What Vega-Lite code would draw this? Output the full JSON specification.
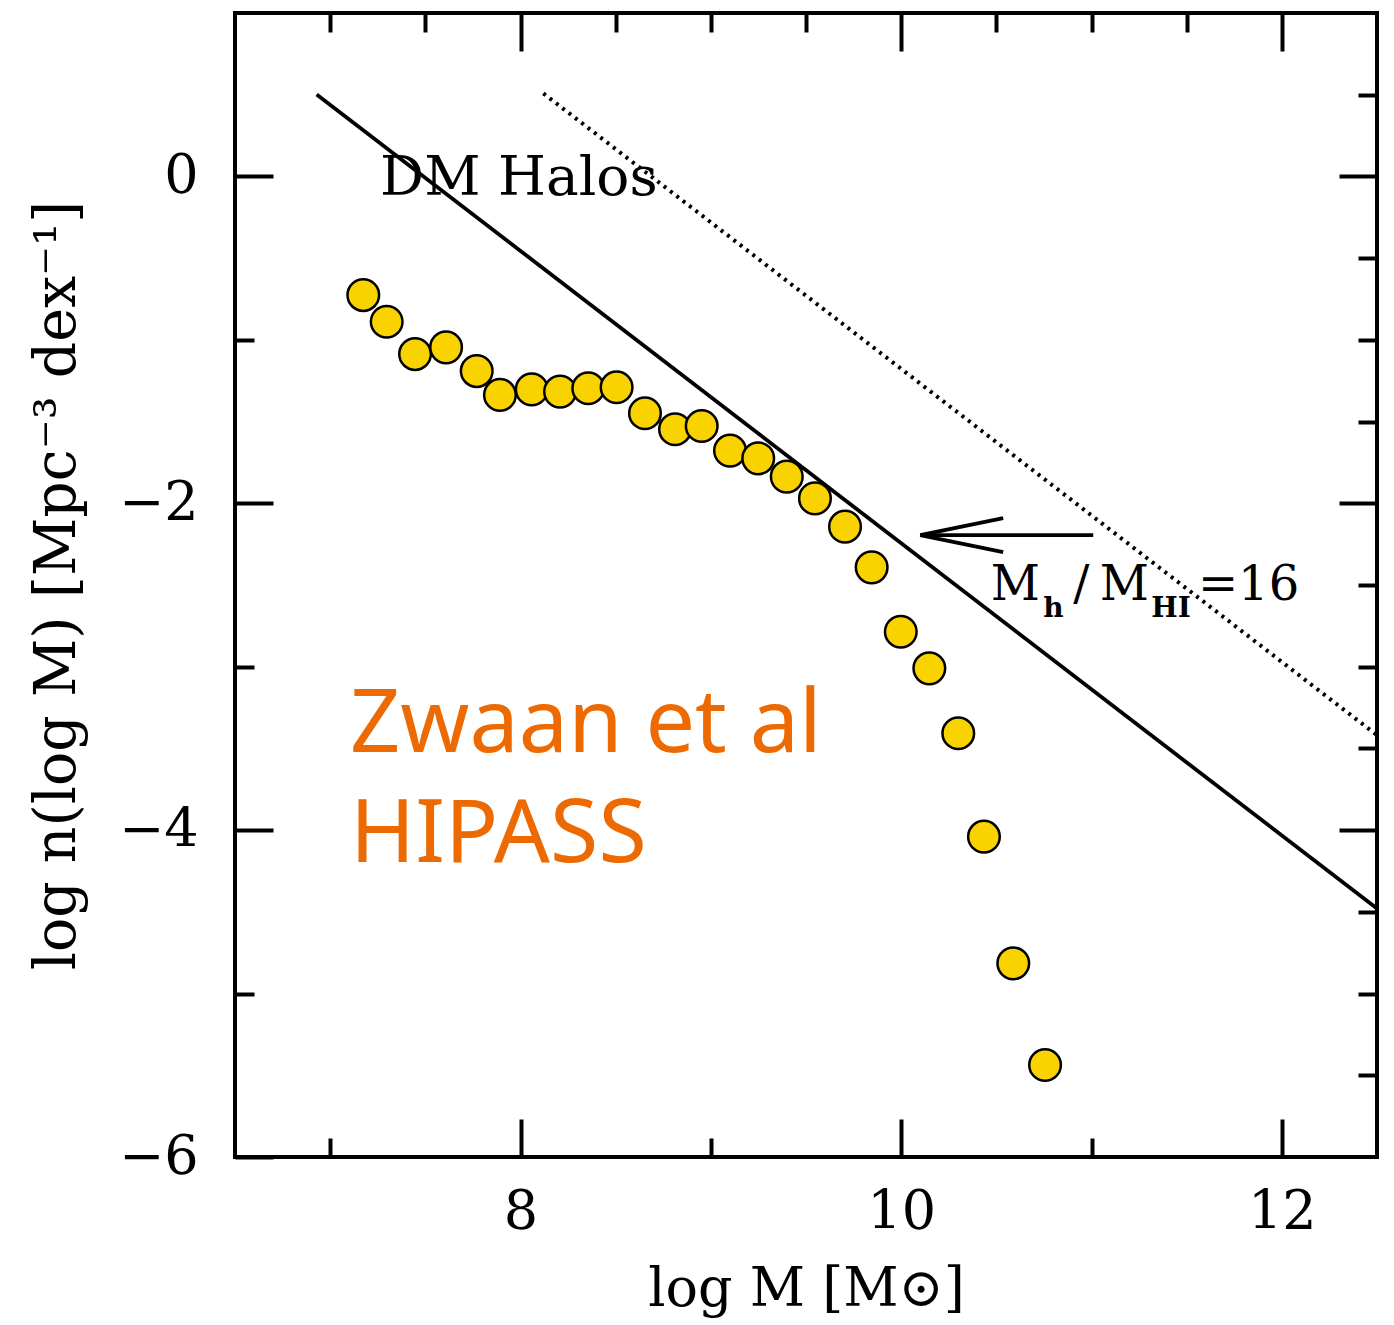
{
  "$schema": "https://vega.github.io/schema/vega-lite/v6.json",
  "width": 1142,
  "height": 1144,
  "autosize": {"type": "none"},
  "padding": {"left": 235, "top": 13, "right": 17, "bottom": 168},
  "background": "white",
  "config": {
    "view": {"stroke": "black", "strokeWidth": 4},
    "axis": {
      "domain": false,
      "grid": false,
      "tickColor": "black",
      "tickWidth": 4,
      "labelColor": "black",
      "labelFont": "DejaVu Serif",
      "labelFontSize": 54,
      "labelOverlap": false,
      "labelFlush": false,
      "titleColor": "black",
      "titleFont": "DejaVu Serif",
      "titleFontWeight": "normal"
    }
  },
  "layer": [
    {
      "data": {"values": [{"logM": 6.929, "logn": 0.502}, {"logM": 12.5, "logn": -4.48}]},
      "mark": {"type": "line", "color": "black", "strokeWidth": 3.8},
      "encoding": {
        "x": {"field": "logM", "type": "quantitative", "scale": {"domain": [6.5, 12.5], "nice": false, "zero": false},
          "axis": {"orient": "top", "values": [7, 7.5, 8, 8.5, 9, 9.5, 10, 10.5, 11, 11.5, 12], "labels": false, "title": null,
            "tickSize": {"condition": {"test": "datum.value % 2 === 0", "value": -38}, "value": -19}}},
        "y": {"field": "logn", "type": "quantitative", "scale": {"domain": [-6, 1], "nice": false, "zero": false},
          "axis": {"orient": "right", "values": [-5.5, -5, -4.5, -4, -3.5, -3, -2.5, -2, -1.5, -1, -0.5, 0, 0.5], "labels": false, "title": null,
            "tickSize": {"condition": {"test": "datum.value % 2 === 0", "value": -38}, "value": -19}}}
      }
    },
    {
      "data": {"values": [{"logM": 8.12, "logn": 0.508}, {"logM": 12.5, "logn": -3.419}]},
      "mark": {"type": "line", "color": "black", "strokeWidth": 4, "strokeDash": [3, 5]},
      "encoding": {
        "x": {"field": "logM", "type": "quantitative", "axis": null},
        "y": {"field": "logn", "type": "quantitative", "axis": null}
      }
    },
    {
      "data": {"values": [
        {"x1": 10.1, "y1": -2.195, "x2": 11.009, "y2": -2.195},
        {"x1": 10.1, "y1": -2.195, "x2": 10.536, "y2": -2.091},
        {"x1": 10.1, "y1": -2.195, "x2": 10.536, "y2": -2.299}
      ]},
      "mark": {"type": "rule", "color": "black", "strokeWidth": 3.8},
      "encoding": {
        "x": {"field": "x1", "type": "quantitative", "axis": null},
        "y": {"field": "y1", "type": "quantitative", "axis": null},
        "x2": {"field": "x2"},
        "y2": {"field": "y2"}
      }
    },
    {
      "data": {"values": [
        {"logM": 7.174, "logn": -0.726},
        {"logM": 7.297, "logn": -0.889},
        {"logM": 7.446, "logn": -1.087},
        {"logM": 7.609, "logn": -1.046},
        {"logM": 7.77, "logn": -1.191},
        {"logM": 7.892, "logn": -1.337},
        {"logM": 8.059, "logn": -1.303},
        {"logM": 8.208, "logn": -1.317},
        {"logM": 8.356, "logn": -1.296},
        {"logM": 8.505, "logn": -1.29},
        {"logM": 8.654, "logn": -1.449},
        {"logM": 8.812, "logn": -1.547},
        {"logM": 8.952, "logn": -1.527},
        {"logM": 9.101, "logn": -1.678},
        {"logM": 9.249, "logn": -1.725},
        {"logM": 9.399, "logn": -1.837},
        {"logM": 9.547, "logn": -1.97},
        {"logM": 9.705, "logn": -2.143},
        {"logM": 9.845, "logn": -2.392},
        {"logM": 9.998, "logn": -2.786},
        {"logM": 10.148, "logn": -3.01},
        {"logM": 10.3, "logn": -3.407},
        {"logM": 10.435, "logn": -4.04},
        {"logM": 10.589, "logn": -4.815},
        {"logM": 10.756, "logn": -5.437}
      ]},
      "mark": {"type": "point", "shape": "circle", "filled": true, "size": 1000, "fill": "#F8D300", "stroke": "black", "strokeWidth": 2.5, "opacity": 1},
      "encoding": {
        "x": {"field": "logM", "type": "quantitative",
          "axis": {"orient": "bottom", "values": [7, 7.5, 8, 8.5, 9, 9.5, 10, 10.5, 11, 11.5, 12],
            "format": "d",
            "labelExpr": "datum.value % 2 === 0 ? datum.label : ''",
            "tickSize": {"condition": {"test": "datum.value % 2 === 0", "value": -38}, "value": -19},
            "labelPadding": 66,
            "title": "log M [M⊙]", "titleFontSize": 54, "titlePadding": 4}},
        "y": {"field": "logn", "type": "quantitative",
          "axis": {"orient": "left", "values": [-6, -5.5, -5, -4.5, -4, -3.5, -3, -2.5, -2, -1.5, -1, -0.5, 0, 0.5],
            "format": "d",
            "labelExpr": "datum.value % 2 === 0 ? datum.label : ''",
            "tickSize": {"condition": {"test": "datum.value % 2 === 0", "value": -38}, "value": -19},
            "labelPadding": 75,
            "title": "log n(log M)  [Mpc⁻³ dex⁻¹]", "titleFontSize": 57, "titlePadding": 32}}
      }
    },
    {
      "data": {"values": [
        {"logM": 7.262, "logn": -0.114, "label": "DM Halos"}
      ]},
      "mark": {"type": "text", "align": "left", "baseline": "alphabetic", "font": "DejaVu Serif", "fontSize": 55, "color": "black"},
      "encoding": {
        "x": {"field": "logM", "type": "quantitative", "axis": null},
        "y": {"field": "logn", "type": "quantitative", "axis": null},
        "text": {"field": "label"}
      }
    },
    {
      "data": {"values": [
        {"logM": 10.6, "logn": -2.592, "label": "M"},
        {"logM": 10.946, "logn": -2.592, "label": "/"},
        {"logM": 11.172, "logn": -2.592, "label": "M"},
        {"logM": 11.825, "logn": -2.592, "label": "=16"}
      ]},
      "mark": {"type": "text", "align": "center", "baseline": "alphabetic", "font": "DejaVu Serif", "fontSize": 48, "color": "black"},
      "encoding": {
        "x": {"field": "logM", "type": "quantitative", "axis": null},
        "y": {"field": "logn", "type": "quantitative", "axis": null},
        "text": {"field": "label"}
      }
    },
    {
      "data": {"values": [
        {"logM": 10.8, "logn": -2.696, "label": "h"},
        {"logM": 11.418, "logn": -2.696, "label": "HI"}
      ]},
      "mark": {"type": "text", "align": "center", "baseline": "alphabetic", "font": "DejaVu Serif", "fontSize": 28, "fontWeight": "bold", "color": "black"},
      "encoding": {
        "x": {"field": "logM", "type": "quantitative", "axis": null},
        "y": {"field": "logn", "type": "quantitative", "axis": null},
        "text": {"field": "label"}
      }
    },
    {
      "data": {"values": [
        {"logM": 7.104, "logn": -3.522, "label": "Zwaan et al"},
        {"logM": 7.104, "logn": -4.195, "label": "HIPASS"}
      ]},
      "mark": {"type": "text", "align": "left", "baseline": "alphabetic", "font": "Noto Sans", "fontSize": 88, "color": "#ED6A02"},
      "encoding": {
        "x": {"field": "logM", "type": "quantitative", "axis": null},
        "y": {"field": "logn", "type": "quantitative", "axis": null},
        "text": {"field": "label"}
      }
    }
  ],
  "resolve": {"axis": {"x": "independent", "y": "independent"}}
}
